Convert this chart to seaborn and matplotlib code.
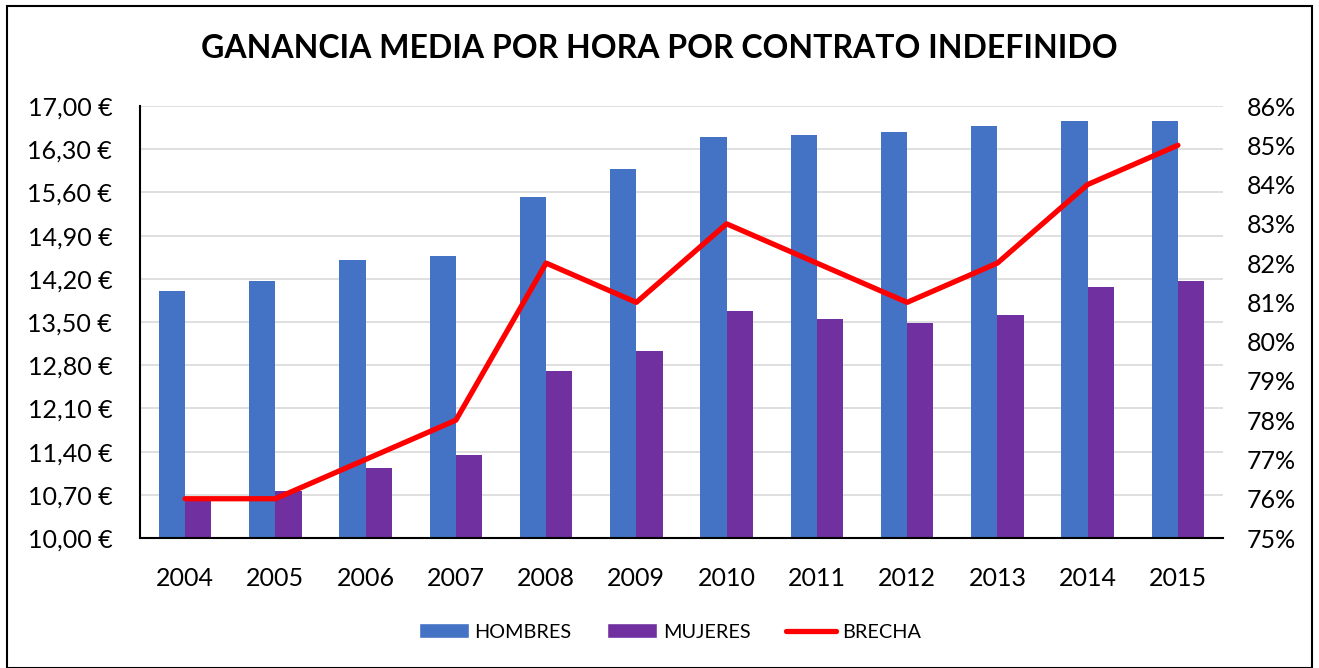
import pandas as pd
import seaborn as sns
import matplotlib.pyplot as plt
import numpy as np
from matplotlib.patches import Patch, Rectangle
from matplotlib.lines import Line2D
from matplotlib.ticker import FuncFormatter

# Datos
years = [2004, 2005, 2006, 2007, 2008, 2009, 2010, 2011, 2012, 2013, 2014, 2015]
hombres = [14.00, 14.17, 14.51, 14.57, 15.53, 15.98, 16.50, 16.53, 16.58, 16.68, 16.76, 16.76]
mujeres = [10.62, 10.76, 11.13, 11.35, 12.71, 13.03, 13.68, 13.55, 13.48, 13.61, 14.07, 14.17]
brecha = [76, 76, 77, 78, 82, 81, 83, 82, 81, 82, 84, 85]

c_h = '#4472C4'
c_m = '#7030A0'
c_b = '#FF0000'

bars_df = pd.DataFrame({'year': years * 2,
                        'valor': hombres + mujeres,
                        'serie': ['HOMBRES'] * len(years) + ['MUJERES'] * len(years)})
line_df = pd.DataFrame({'pos': range(len(years)), 'brecha': brecha})

sns.set_theme(style='white')
plt.rcParams['font.family'] = ['Lato', 'DejaVu Sans']
plt.rcParams['text.color'] = 'black'

fig = plt.figure(figsize=(13.19, 6.68), dpi=100)
ax = fig.add_axes([140 / 1319, 1 - 538 / 668, (1223 - 140) / 1319, (538 - 106) / 668])

sns.barplot(data=bars_df, x='year', y='valor', hue='serie',
            palette={'HOMBRES': c_h, 'MUJERES': c_m}, width=0.58,
            saturation=1, linewidth=0, ax=ax, legend=False, zorder=2)

ax.set_ylim(10, 17)
ax.set_yticks(np.arange(10, 17.01, 0.7))
ax.yaxis.set_major_formatter(FuncFormatter(lambda v, p: f"{v:.2f} €".replace('.', ',')))
ax.grid(axis='y', color='#D9D9D9', linewidth=1.2, zorder=0)
ax.set_axisbelow(True)
ax.set_xlabel('')
ax.set_ylabel('')
ax.tick_params(axis='y', labelsize=18, colors='black', length=0, pad=20)
ax.tick_params(axis='x', labelsize=18, colors='black', length=0, pad=21)
for s in ['top', 'right']:
    ax.spines[s].set_visible(False)
for s in ['left', 'bottom']:
    ax.spines[s].set_color('black')
    ax.spines[s].set_linewidth(1.5)

ax2 = ax.twinx()
sns.lineplot(data=line_df, x='pos', y='brecha', color=c_b, linewidth=3.8,
             ax=ax2, zorder=3)
ax2.set_ylim(75, 86)
ax2.set_yticks(range(75, 87))
ax2.yaxis.set_major_formatter(FuncFormatter(lambda v, p: f"{v:.0f}%"))
ax2.set_ylabel('')
ax2.tick_params(axis='y', labelsize=18, colors='black', length=0, pad=17)
for s in ax2.spines.values():
    s.set_visible(False)
ax.set_xlim(-0.5, len(years) - 0.5)

fig.text(0.5, 1 - 48 / 668, 'GANANCIA MEDIA POR HORA POR CONTRATO INDEFINIDO',
         ha='center', va='center', fontsize=23, fontweight='bold', color='black')

handles = [Patch(facecolor=c_h, label='HOMBRES'),
           Patch(facecolor=c_m, label='MUJERES'),
           Line2D([0], [0], color=c_b, linewidth=3.8, label='BRECHA')]
fig.legend(handles=handles, loc='center', bbox_to_anchor=(0.508, 1 - 632 / 668),
           ncol=3, frameon=False, fontsize=14.3, handlelength=2.5,
           handleheight=0.8, columnspacing=1.8, handletextpad=0.3)

fig.patches.append(Rectangle((7 / 1319, 0), 1305 / 1319, 1 - 6 / 668,
                             transform=fig.transFigure, fill=False,
                             edgecolor='black', linewidth=1.5))

fig.savefig('out.png', dpi=100)
